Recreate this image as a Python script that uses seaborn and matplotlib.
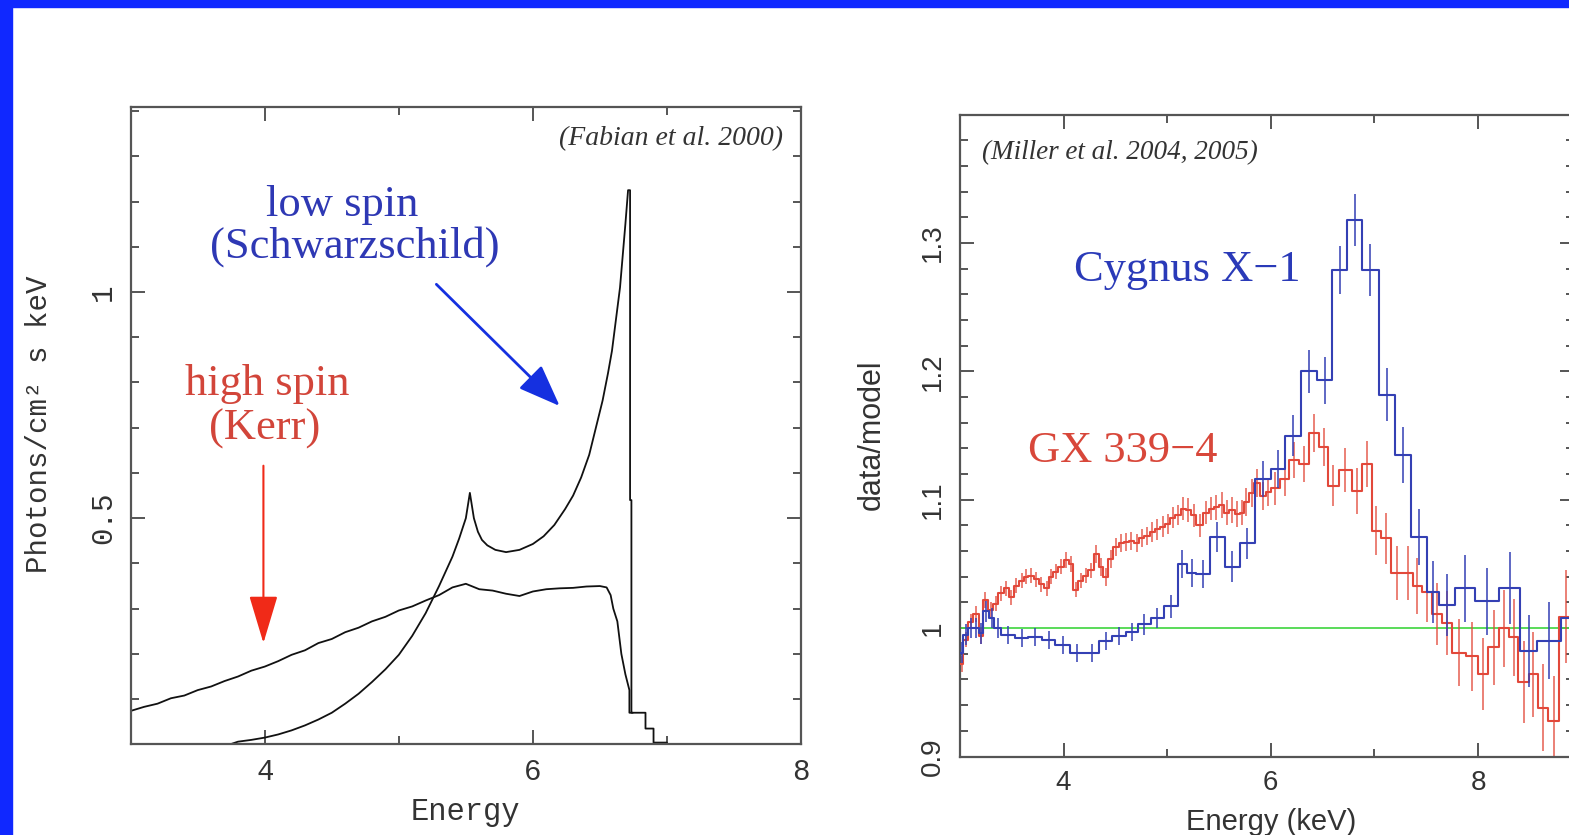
import matplotlib
matplotlib.use("Agg")
import matplotlib.pyplot as plt
from matplotlib.patches import Rectangle
from matplotlib.ticker import MultipleLocator, FixedLocator
import seaborn as sns
import pandas as pd
import numpy as np

# ---------------- data: left panel (model line profiles, traced points) ----------------
kerr_E = [3.0, 3.1, 3.2, 3.3, 3.4, 3.5, 3.6, 3.7, 3.8, 3.9, 4.0, 4.1, 4.2, 4.3,
          4.4, 4.5, 4.6, 4.7, 4.8, 4.9, 5.0, 5.1, 5.2, 5.3, 5.4, 5.5, 5.6, 5.7,
          5.8, 5.9, 6.0, 6.1, 6.2, 6.3, 6.4, 6.5, 6.55, 6.58, 6.60, 6.63, 6.66,
          6.69, 6.72, 6.72, 6.745, 6.745, 6.84, 6.84, 6.90, 6.90, 7.00]
kerr_F = [0.074, 0.083, 0.090, 0.102, 0.108, 0.120, 0.128, 0.140, 0.150, 0.163,
          0.172, 0.184, 0.198, 0.208, 0.224, 0.233, 0.248, 0.258, 0.272, 0.282,
          0.296, 0.305, 0.318, 0.330, 0.347, 0.355, 0.343, 0.340, 0.333, 0.328,
          0.338, 0.343, 0.345, 0.346, 0.349, 0.350, 0.347, 0.330, 0.300, 0.272,
          0.200, 0.155, 0.120, 0.070, 0.070, 0.070, 0.070, 0.035, 0.035, 0.004,
          0.004]

schw_E = [3.74, 3.8, 3.9, 4.0, 4.1, 4.2, 4.3, 4.4, 4.5, 4.6, 4.7, 4.8, 4.9, 5.0,
          5.1, 5.2, 5.3, 5.4, 5.45, 5.5, 5.53, 5.56, 5.59, 5.62, 5.66, 5.72,
          5.80, 5.90, 6.00, 6.08, 6.16, 6.24, 6.30, 6.36, 6.42, 6.47, 6.52,
          6.56, 6.59, 6.62, 6.65, 6.67, 6.69, 6.71, 6.725, 6.725, 6.735, 6.735,
          6.745]
schw_F = [0.000, 0.006, 0.010, 0.015, 0.022, 0.031, 0.042, 0.055, 0.070, 0.090,
          0.112, 0.138, 0.166, 0.198, 0.240, 0.290, 0.350, 0.415, 0.455, 0.500,
          0.556, 0.500, 0.470, 0.452, 0.440, 0.430, 0.425, 0.430, 0.443, 0.460,
          0.485, 0.520, 0.550, 0.590, 0.640, 0.700, 0.760, 0.820, 0.870, 0.940,
          1.010, 1.080, 1.150, 1.225, 1.225, 0.540, 0.540, 0.070, 0.070]

# ---------------- data: right panel (data/model ratios) ----------------
cyg_edges = [3.00, 3.03, 3.08, 3.13, 3.18, 3.22, 3.28, 3.33, 3.40, 3.53, 3.66, 3.79,
             3.92, 4.06, 4.20, 4.34, 4.47, 4.60, 4.72, 4.84, 4.97, 5.10, 5.19, 5.28,
             5.41, 5.56, 5.70, 5.85, 6.00, 6.14, 6.29, 6.45, 6.59, 6.74, 6.88, 7.04,
             7.20, 7.35, 7.51, 7.62, 7.78, 7.97, 8.20, 8.41, 8.57, 8.80, 9.00]
cyg_vals = [0.981, 0.995, 1.000, 1.000, 0.996, 1.013, 1.008, 1.000, 0.995, 0.992,
            0.993, 0.991, 0.987, 0.981, 0.981, 0.990, 0.994, 0.997, 1.003, 1.008,
            1.017, 1.050, 1.043, 1.042, 1.071, 1.048, 1.066, 1.116, 1.124, 1.150,
            1.200, 1.193, 1.279, 1.318, 1.279, 1.182, 1.135, 1.071, 1.028, 1.018,
            1.031, 1.021, 1.031, 0.982, 0.990, 1.008]
cyg_errs = [0.008, 0.008, 0.008, 0.008, 0.008, 0.008, 0.008, 0.008, 0.007, 0.007,
            0.007, 0.007, 0.007, 0.007, 0.007, 0.007, 0.007, 0.007, 0.008, 0.008,
            0.009, 0.011, 0.011, 0.011, 0.012, 0.012, 0.012, 0.014, 0.015, 0.016,
            0.017, 0.018, 0.019, 0.020, 0.020, 0.021, 0.022, 0.022, 0.024, 0.024,
            0.026, 0.026, 0.028, 0.028, 0.030, 0.030]

gx_edges = [3.00, 3.03, 3.08, 3.13, 3.18, 3.22, 3.27, 3.32, 3.37, 3.42, 3.47, 3.52,
            3.57, 3.62, 3.66, 3.71, 3.76, 3.81, 3.86, 3.90, 3.95, 4.00, 4.05, 4.09,
            4.14, 4.19, 4.24, 4.29, 4.34, 4.38, 4.43, 4.48, 4.53, 4.58, 4.63, 4.68,
            4.73, 4.78, 4.83, 4.88, 4.93, 4.98, 5.03, 5.08, 5.13, 5.18, 5.23, 5.28,
            5.35, 5.40, 5.45, 5.50, 5.55, 5.60, 5.65, 5.70, 5.74, 5.79, 5.84, 5.90,
            5.95, 6.00, 6.09, 6.18, 6.27, 6.37, 6.47, 6.55, 6.66, 6.78, 6.88, 6.98,
            7.06, 7.16, 7.27, 7.37, 7.46, 7.56, 7.65, 7.75, 7.88, 8.00, 8.10, 8.20,
            8.30, 8.39, 8.49, 8.58, 8.68, 8.78, 8.92]
gx_vals = [0.972, 0.991, 1.005, 1.011, 0.994, 1.022, 1.014, 1.019, 1.027, 1.031,
           1.024, 1.033, 1.037, 1.040, 1.041, 1.038, 1.034, 1.031, 1.040, 1.044,
           1.048, 1.053, 1.050, 1.030, 1.037, 1.041, 1.045, 1.058, 1.048, 1.040,
           1.054, 1.063, 1.066, 1.067, 1.068, 1.066, 1.070, 1.072, 1.075, 1.077,
           1.079, 1.081, 1.086, 1.088, 1.093, 1.092, 1.088, 1.080, 1.090, 1.093,
           1.094, 1.096, 1.090, 1.092, 1.089, 1.090, 1.098, 1.105, 1.113, 1.103,
           1.106, 1.109, 1.116, 1.131, 1.128, 1.152, 1.141, 1.111, 1.123, 1.107,
           1.128, 1.076, 1.070, 1.043, 1.043, 1.033, 1.028, 1.011, 1.004, 0.981,
           0.978, 0.964, 0.985, 1.000, 0.993, 0.958, 0.964, 0.938, 0.928, 1.009]
gx_errs = [0.006, 0.006, 0.006, 0.006, 0.006, 0.006, 0.006, 0.006, 0.006, 0.006,
           0.006, 0.006, 0.006, 0.006, 0.006, 0.006, 0.006, 0.006, 0.006, 0.006,
           0.006, 0.006, 0.006, 0.006, 0.006, 0.006, 0.006, 0.007, 0.007, 0.007,
           0.007, 0.007, 0.007, 0.007, 0.007, 0.007, 0.007, 0.007, 0.008, 0.008,
           0.008, 0.008, 0.008, 0.008, 0.009, 0.009, 0.009, 0.009, 0.009, 0.009,
           0.010, 0.010, 0.010, 0.010, 0.010, 0.010, 0.011, 0.011, 0.011, 0.011,
           0.011, 0.013, 0.013, 0.014, 0.014, 0.015, 0.015, 0.016, 0.017, 0.018,
           0.018, 0.019, 0.020, 0.021, 0.021, 0.022, 0.023, 0.024, 0.025, 0.026,
           0.027, 0.028, 0.029, 0.030, 0.030, 0.032, 0.033, 0.034, 0.035, 0.036]

left_xticks = [4, 6, 8]
left_xtick_labels = ["4", "6", "8"]
left_yticks = [0.5, 1.0]
left_ytick_labels = ["0.5", "1"]
right_xticks = [4, 6, 8]
right_xtick_labels = ["4", "6", "8"]
right_yticks = [0.9, 1.0, 1.1, 1.2, 1.3]
right_ytick_labels = ["0.9", "1", "1.1", "1.2", "1.3"]


def step_frame(edges, vals):
    return pd.DataFrame({"E": edges, "v": list(vals) + [vals[-1]]})


# ---------------- figure ----------------
sns.set_style("ticks")
plt.rcParams["font.family"] = ["Liberation Sans", "DejaVu Sans"]

W, H = 1569, 835
fig = plt.figure(figsize=(W / 100, H / 100), dpi=100)
fig.patch.set_facecolor("white")
border = "#1028FF"
fig.patches.append(Rectangle((0, 0), 12 / W, 1, transform=fig.transFigure,
                             color=border, zorder=10))
fig.patches.append(Rectangle((0, 1 - 7 / H), 1, 7 / H, transform=fig.transFigure,
                             color=border, zorder=10))

spine_col = "#555555"
text_col = "#333333"

# ---------- left panel ----------
ax1 = fig.add_axes([130.7 / W, (H - 744.4) / H, 670.3 / W, 637.9 / H])
sns.lineplot(data=pd.DataFrame({"E": kerr_E, "F": kerr_F}), x="E", y="F", ax=ax1,
             color="#111111", lw=1.3, estimator=None, sort=False)
sns.lineplot(data=pd.DataFrame({"E": schw_E, "F": schw_F}), x="E", y="F", ax=ax1,
             color="#111111", lw=1.3, estimator=None, sort=False)
ax1.set_xlim(3, 8)
ax1.set_ylim(0, 1.41)
ax1.set_xticks(left_xticks)
ax1.set_xticklabels(left_xtick_labels)
ax1.set_yticks(left_yticks)
ax1.set_yticklabels(left_ytick_labels, rotation=90, va="center")
ax1.xaxis.set_minor_locator(FixedLocator([5, 7]))
ax1.yaxis.set_minor_locator(MultipleLocator(0.1))
mono = "Liberation Mono"
for lab in ax1.get_xticklabels() + ax1.get_yticklabels():
    lab.set_fontfamily(mono)
    lab.set_fontsize(21)
    lab.set_color(text_col)
ax1.set_xlabel("Energy", fontfamily=mono, fontsize=22, color=text_col)
ax1.set_ylabel("Photons/cm² s keV", fontfamily=mono, fontsize=21, color=text_col)
ax1.xaxis.set_label_coords(0.5, -0.082)
ax1.yaxis.set_label_coords(-0.116, 0.502)

ax1.text(7.867, 1.338, "(Fabian et al. 2000)", fontfamily="Liberation Serif",
         style="italic", fontsize=20, color=text_col, ha="right", va="center")
blue_txt = "#2E38B4"
red_txt = "#D2453A"
ax1.text(4.576, 1.193, "low spin", fontfamily="Liberation Serif", fontsize=32,
         color=blue_txt, ha="center", va="center")
ax1.text(4.674, 1.100, "(Schwarzschild)", fontfamily="Liberation Serif", fontsize=32,
         color=blue_txt, ha="center", va="center")
ax1.text(4.02, 0.796, "high spin", fontfamily="Liberation Serif", fontsize=32,
         color=red_txt, ha="center", va="center")
ax1.text(4.00, 0.697, "(Kerr)", fontfamily="Liberation Serif", fontsize=32,
         color=red_txt, ha="center", va="center")
ax1.annotate("", xy=(6.20, 0.748), xytext=(5.28, 1.017),
             arrowprops=dict(arrowstyle="-|>,head_length=1.3,head_width=0.5",
                             mutation_scale=20, color="#1530E0", lw=2,
                             shrinkA=0, shrinkB=0))
ax1.annotate("", xy=(3.99, 0.224), xytext=(3.99, 0.616),
             arrowprops=dict(arrowstyle="-|>,head_length=1.5,head_width=0.45",
                             mutation_scale=20, color="#F02A18", lw=1.5,
                             shrinkA=0, shrinkB=0))

# ---------- right panel ----------
ax2 = fig.add_axes([960 / W, (H - 756.5) / H, 614 / W, 641.8 / H])
ax2.set_xlim(3, 3 + 614 / 103.6)
ax2.set_ylim(0.9, 1.4)
ax2.axhline(1.0, color="#4CD84C", lw=1.3, zorder=1)

red_line = "#E2483A"
blue_line = "#3440B4"
gx_cent = [(a + b) / 2 for a, b in zip(gx_edges[:-1], gx_edges[1:])]
cyg_cent = [(a + b) / 2 for a, b in zip(cyg_edges[:-1], cyg_edges[1:])]

ax2.errorbar(gx_cent, gx_vals, yerr=gx_errs, fmt="none", ecolor=red_line,
             elinewidth=1.3, alpha=0.75, zorder=2)
sns.lineplot(data=step_frame(gx_edges, gx_vals), x="E", y="v", ax=ax2,
             drawstyle="steps-post", color=red_line, lw=1.5,
             estimator=None, sort=False, zorder=3)
ax2.errorbar(cyg_cent, cyg_vals, yerr=cyg_errs, fmt="none", ecolor=blue_line,
             elinewidth=1.3, alpha=0.85, zorder=4)
sns.lineplot(data=step_frame(cyg_edges, cyg_vals), x="E", y="v", ax=ax2,
             drawstyle="steps-post", color=blue_line, lw=1.5,
             estimator=None, sort=False, zorder=5)

ax2.set_xticks(right_xticks)
ax2.set_xticklabels(right_xtick_labels)
ax2.set_yticks(right_yticks)
ax2.set_yticklabels(right_ytick_labels, rotation=90, va="center")
ax2.xaxis.set_minor_locator(FixedLocator([5, 7]))
ax2.yaxis.set_minor_locator(MultipleLocator(0.02))
for lab in ax2.get_xticklabels() + ax2.get_yticklabels():
    lab.set_fontfamily("Liberation Sans")
    lab.set_fontsize(20)
    lab.set_color(text_col)
ax2.set_xlabel("Energy (keV)", fontfamily="Liberation Sans", fontsize=21, color=text_col)
ax2.set_ylabel("data/model", fontfamily="Liberation Sans", fontsize=22, color=text_col)
ax2.xaxis.set_label_coords(0.5 * 621.6 / 614, -0.080)
ax2.yaxis.set_label_coords(-0.119, 0.501)

ax2.text(3.212, 1.3705, "(Miller et al. 2004, 2005)", fontfamily="Liberation Serif",
         style="italic", fontsize=19.5, color=text_col, ha="left", va="center")
ax2.text(5.19, 1.279, "Cygnus X\u22121", fontfamily="Liberation Serif", fontsize=32,
         color="#2A3AB8", ha="center", va="center")
ax2.text(4.573, 1.138, "GX 339\u22124", fontfamily="Liberation Serif", fontsize=32,
         color="#D8473A", ha="center", va="center")

for ax in (ax1, ax2):
    ax.set_facecolor("white")
    for sp in ax.spines.values():
        sp.set_visible(True)
        sp.set_color(spine_col)
        sp.set_linewidth(1.6)
    ax.tick_params(which="both", direction="in", top=True, right=True,
                   color=spine_col, width=1.4)
    ax.tick_params(which="major", length=10, pad=10)
    ax.tick_params(which="minor", length=6)

fig.savefig("out.png", dpi=100, facecolor="white")
